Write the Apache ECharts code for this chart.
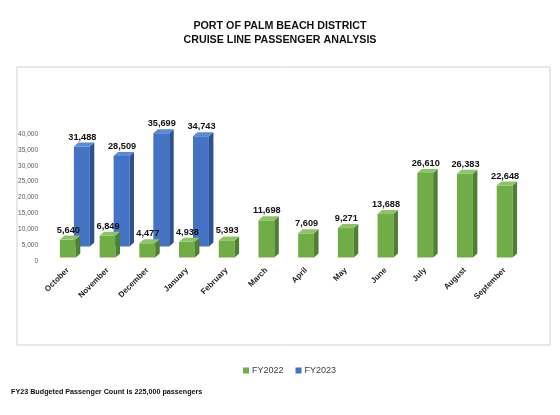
<!DOCTYPE html>
<html>
<head>
<meta charset="utf-8">
<script src="https://cdn.jsdelivr.net/npm/echarts@6/dist/echarts.min.js"></script>
<style>
html, body { margin: 0; padding: 0; background: #fff; }
#main { width: 560px; height: 415px; }
</style>
</head>
<body>
<div id="main"></div>
<script>
let months = ['October', 'November', 'December', 'January', 'February', 'March',
    'April', 'May', 'June', 'July', 'August', 'September'];
let fy2022 = [5640, 6849, 4477, 4938, 5393, 11698, 7609, 9271, 13688, 26610, 26383, 22648];
let fy2023 = [31488, 28509, 35699, 34743];
let yTicks = [0, 5000, 10000, 15000, 20000, 25000, 30000, 35000, 40000];

function fmt(v) {
    return String(v).replace(/\B(?=(\d{3})+(?!\d))/g, ',');
}

// 3d looking bar: front face, side face and top face
function box3d(colors, ox, oy) {
    return function (params, api) {
        let idx = api.value(0), val = api.value(1);
        let base = api.coord([idx, 0]);
        let top = api.coord([idx, val]);
        let band = api.size([1, 0])[0];
        let w = band * 0.4, d = 4.5, dd = 4;
        let x0 = base[0] - w / 2 + ox;
        let yb = base[1] + oy, yt = top[1] + oy;
        return {
            type: 'group',
            children: [
                {type: 'rect', shape: {x: x0, y: yt, width: w, height: yb - yt},
                    style: {fill: colors[0]}},
                {type: 'polygon', shape: {points: [[x0 + w, yt], [x0 + w + d, yt - dd], [x0 + w + d, yb - dd], [x0 + w, yb]]},
                    style: {fill: colors[1]}},
                {type: 'polygon', shape: {points: [[x0, yt], [x0 + d, yt - dd], [x0 + w + d, yt - dd], [x0 + w, yt]]},
                    style: {fill: colors[2]}},
                {type: 'text', x: x0 + w / 2 + 0.5, y: yt - dd - 1,
                    style: {text: fmt(val), fill: '#111', font: 'bold 9.2px "Liberation Sans", Arial',
                        textAlign: 'center', textVerticalAlign: 'bottom'}}
            ]
        };
    };
}

let myChart = echarts.init(document.getElementById('main'));

let option = {
    backgroundColor: '#fff',
    animation: false,
    title: {
        text: 'PORT OF PALM BEACH DISTRICT\nCRUISE LINE PASSENGER ANALYSIS',
        left: 'center',
        top: 14,
        textStyle: {fontSize: 10.7, fontWeight: 'bold', lineHeight: 14, color: '#111',
            fontFamily: '"Liberation Sans", Arial'}
    },
    legend: {
        left: 238,
        top: 361,
        itemWidth: 6,
        itemHeight: 6,
        itemGap: 12,
        icon: 'rect',
        textStyle: {fontSize: 9, color: '#404040', fontFamily: '"Liberation Sans", Arial', padding: [0, 0, 0, -2]},
        data: ['FY2022', 'FY2023']
    },
    grid: {left: 48, right: 35.5, top: 134, bottom: 154},
    xAxis: {
        type: 'category',
        data: months,
        axisLine: {show: false},
        axisTick: {show: false},
        axisLabel: {rotate: 45, margin: 8, interval: 0, fontSize: 8, fontWeight: 'bold', color: '#222',
            fontFamily: '"Liberation Sans", Arial'}
    },
    yAxis: {
        type: 'value',
        min: yTicks[0],
        max: yTicks[yTicks.length - 1],
        interval: 5000,
        splitLine: {show: false},
        axisLine: {show: false},
        axisTick: {show: false},
        axisLabel: {fontSize: 6.5, color: '#595959', margin: 10, formatter: fmt,
            fontFamily: '"Liberation Sans", Arial'}
    },
    graphic: [
        {type: 'rect', z: -1, shape: {x: 17, y: 67, width: 533, height: 278},
            style: {fill: 'none', stroke: '#c9d3dc', lineWidth: 1}},
        {type: 'text', left: 11, top: 389,
            style: {text: 'FY23 Budgeted Passenger Count is 225,000 passengers', fill: '#111',
                font: 'bold 7.2px "Liberation Sans", Arial'}}
    ],
    series: [
        {
            name: 'FY2023',
            type: 'custom',
            clip: false,
            itemStyle: {color: '#4472C4'},
            renderItem: box3d(['#4472C4', '#2F528F', '#5B89D8'], 14, -14.5),
            encode: {x: 0, y: 1},
            data: fy2023.map((v, i) => [i, v])
        },
        {
            name: 'FY2022',
            type: 'custom',
            clip: false,
            itemStyle: {color: '#70AD47'},
            renderItem: box3d(['#70AD47', '#4F7F31', '#8DC466'], 0, -3.5),
            encode: {x: 0, y: 1},
            data: fy2022.map((v, i) => [i, v])
        }
    ]
};
myChart.setOption(option);
</script>
</body>
</html>
